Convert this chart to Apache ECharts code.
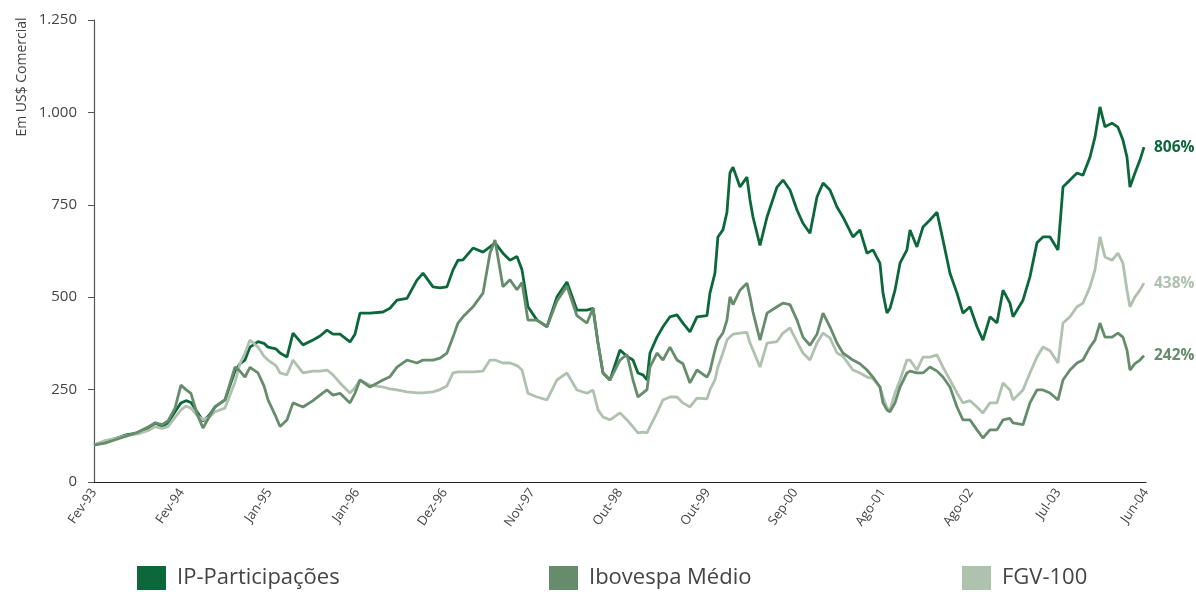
<!DOCTYPE html>
<html>
<head>
<meta charset="utf-8">
<script src="https://cdn.jsdelivr.net/npm/echarts@6/dist/echarts.min.js"></script>
<style>html,body{margin:0;padding:0;background:#fff}#c{width:1196px;height:592px}</style>
</head>
<body>
<div id="c"></div>
<script>
// x tick labels (evenly spaced periods)
const tickLabels = ['Fev-93','Fev-94','Jan-95','Jan-96','Dez-96','Nov-97','Out-98','Out-99','Sep-00','Ago-01','Ago-02','Jul-03','Jun-04'];
const seriesNames = ['IP-Participações','Ibovespa Médio','FGV-100'];
const endLabels = ['806%','242%','438%'];
// time position in tick-label periods
const t = [0,0.125,0.251,0.376,0.502,0.627,0.696,0.776,0.844,0.924,0.992,1.049,1.106,1.175,1.243,1.312,1.380,1.494,1.608,1.665,1.722,1.779,1.871,1.939,1.985,2.076,2.122,2.201,2.270,2.384,2.498,2.578,2.658,2.726,2.806,2.920,2.977,3.034,3.148,3.296,3.376,3.456,3.570,3.684,3.753,3.867,3.947,4.026,4.095,4.152,4.209,4.323,4.437,4.517,4.574,4.665,4.745,4.825,4.882,4.950,5.053,5.167,5.281,5.395,5.509,5.623,5.692,5.749,5.806,5.886,6.000,6.080,6.148,6.205,6.262,6.308,6.342,6.422,6.490,6.570,6.650,6.718,6.798,6.878,6.992,7.026,7.083,7.117,7.174,7.220,7.254,7.289,7.369,7.448,7.483,7.517,7.597,7.677,7.791,7.859,7.939,8.019,8.087,8.167,8.247,8.316,8.395,8.475,8.543,8.657,8.737,8.817,8.885,8.965,9.000,9.045,9.080,9.137,9.194,9.273,9.308,9.387,9.456,9.536,9.616,9.684,9.764,9.844,9.912,9.992,10.072,10.140,10.220,10.300,10.369,10.448,10.483,10.597,10.676,10.756,10.825,10.905,10.996,11.053,11.133,11.213,11.281,11.361,11.418,11.475,11.532,11.612,11.680,11.737,11.783,11.817,11.874,11.931,11.977];
const ipPart = [100,110,118,128,132,145,160,150,160,190,214,220,215,190,165,180,203,222,300,320,330,365,380,375,365,360,349,338,403,371,384,395,411,400,400,379,400,457,457,460,470,492,497,546,565,528,525,528,574,600,601,633,622,636,647,619,600,610,574,474,438,420,501,541,465,465,470,376,295,276,357,340,330,295,290,276,349,392,420,447,452,430,406,447,450,511,565,663,682,730,836,852,798,825,763,717,640,717,798,817,790,736,700,673,771,809,790,744,717,663,682,619,628,592,511,457,470,519,592,628,682,636,690,709,730,655,565,511,457,474,420,384,447,430,519,484,447,492,555,647,663,663,628,798,817,836,830,879,933,1015,961,971,960,925,879,798,836,871,906];
const ibovespa = [100,105,115,125,135,150,160,155,165,200,262,250,240,185,146,175,203,222,311,300,284,310,295,260,222,176,150,168,214,203,220,235,249,235,240,214,240,276,257,276,285,311,330,322,330,330,335,349,392,430,447,474,511,619,655,528,547,520,540,438,438,420,490,530,450,430,470,376,295,276,330,345,276,230,241,250,311,349,330,365,330,320,268,303,284,300,357,384,403,438,501,480,519,538,501,460,384,457,474,484,480,438,392,370,400,457,420,376,349,330,320,303,284,257,214,195,190,214,257,295,300,295,295,311,300,284,257,203,168,168,141,119,141,141,168,172,160,155,214,249,249,241,222,276,303,322,330,365,384,430,392,392,403,392,357,303,320,330,342];
const fgv100 = [100,112,118,126,130,140,150,145,150,175,195,205,200,180,168,175,190,200,270,320,349,384,365,340,330,315,295,290,330,295,300,300,303,290,268,241,255,276,262,257,252,249,244,241,241,244,250,260,295,298,298,298,300,330,330,322,322,315,303,240,230,222,276,295,249,240,249,195,176,168,187,168,149,133,135,133,150,187,222,230,230,214,203,227,225,249,276,311,349,384,392,400,403,405,376,357,311,376,380,403,417,380,349,330,376,403,390,349,340,303,295,284,280,257,230,200,195,241,276,330,330,303,338,338,344,311,276,241,214,220,203,187,214,214,268,249,222,249,295,338,365,355,322,430,447,474,484,528,574,663,609,600,619,592,519,474,501,519,538];

const colors = ['#0c673a','#668c6c','#afc1af'];
const valuesBy = [ipPart, ibovespa, fgv100];
const fmt = v => String(v).replace(/\B(?=(\d{3})+(?!\d))/g, '.');
const FONT = 'Open Sans';

function mkSeries(i, z){
  return {
    name: seriesNames[i], type: 'line', showSymbol: false, symbol: 'none', z: z,
    data: t.map((x, k) => [x, valuesBy[i][k]]),
    lineStyle: {color: colors[i], width: 2.8},
    itemStyle: {color: colors[i]},
    endLabel: {show: true, formatter: endLabels[i], color: colors[i], fontWeight: 'bold', fontSize: 15.5, fontFamily: FONT, distance: 10},
    emphasis: {disabled: true}
  };
}

const chart = echarts.init(document.getElementById('c'), null, {renderer: 'canvas'});
chart.setOption({
  animation: false,
  grid: {left: 94, right: 50, top: 20, bottom: 110, containLabel: false},
  legend: seriesNames.map((n, i) => ({
    data: [n], left: [137, 549, 962][i], top: 566, padding: 0, icon: 'rect', itemWidth: 29, itemHeight: 24,
    textStyle: {fontSize: 22, color: '#444', fontFamily: FONT, padding: [0,0,0,6]},
    selectedMode: false
  })),
  xAxis: {
    type: 'value', min: 0, max: 12, interval: 1,
    axisLine: {show: true, lineStyle: {color: '#222', width: 1.2}},
    axisTick: {show: false},
    splitLine: {show: false},
    axisLabel: {rotate: 55, fontSize: 13, color: '#444', fontFamily: FONT, margin: 8,
      formatter: v => tickLabels[Math.round(v)] || ''}
  },
  yAxis: {
    type: 'value', min: 0, max: 1250, interval: 250,
    axisLine: {show: true, lineStyle: {color: '#555', width: 1.2}},
    axisTick: {show: true, length: 6, lineStyle: {color: '#555'}},
    splitLine: {show: false},
    axisLabel: {fontSize: 15, color: '#444', fontFamily: FONT, margin: 17, formatter: v => fmt(v)}
  },
  graphic: [{
    type: 'text', x: 22, y: 77, rotation: Math.PI / 2,
    style: {text: 'Em US$ Comercial', fontSize: 14, fill: '#444', fontFamily: FONT, textAlign: 'center', textVerticalAlign: 'middle'}
  }],
  series: [mkSeries(0, 2), mkSeries(2, 3), mkSeries(1, 4)]
});
</script>
</body>
</html>
